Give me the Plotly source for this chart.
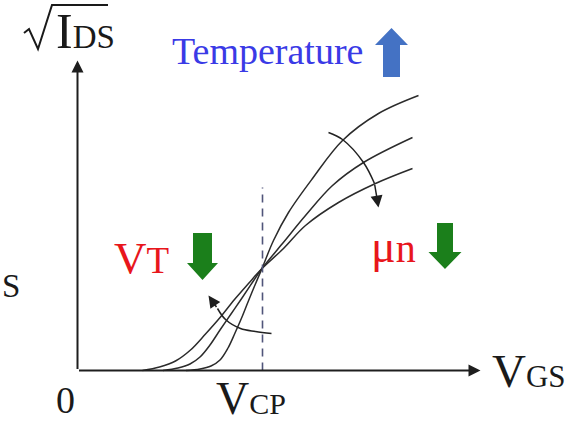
import plotly.graph_objects as go

W, H = 578, 425
# pixel position of the origin and scale (px per unit) of the schematic axes
X0_PX, Y0_PX, PX_PER_UNIT = 77.5, 370.5, 10.0

# ---------------- data (arbitrary units) ----------------
# curve with the highest temperature (lowest V_T, lowest mobility)
vgs_hot = [6.5, 8.2, 9.8, 11.3, 12.8, 14.3, 15.7, 17.1, 18.45, 20.6, 22.8, 26.1, 29.8, 33.5]
sqid_hot = [0.0, 0.35, 0.95, 2.05, 3.65, 5.35, 7.1, 8.7, 10.2, 12.2, 14.5, 16.8, 18.7, 20.2]
# middle temperature
vgs_mid = [8.55, 10.05, 11.25, 12.25, 13.25, 14.25, 15.35, 16.45, 17.45, 18.45, 20.5, 22.8, 25.5, 28.6, 33.5]
sqid_mid = [0.0, 0.25, 0.65, 1.35, 2.55, 4.05, 5.65, 7.25, 8.75, 10.2, 12.7, 15.5, 18.5, 20.8, 23.3]
# lowest temperature (highest V_T, highest mobility)
vgs_cold = [10.85, 12.25, 13.35, 14.25, 15.05, 15.75, 16.45, 17.05, 17.75, 18.45, 19.6, 21.1, 23.5, 26.5, 30.1, 34.1]
sqid_cold = [0.0, 0.15, 0.45, 1.05, 2.25, 3.75, 5.35, 6.85, 8.55, 10.2, 13.0, 15.8, 19.2, 23.0, 25.7, 27.5]

v_cp = 18.5          # crossing point
v_cp_top = 18.3      # top of the dashed marker
x_axis_end = 40.3
y_axis_end = 31.0

# arc arrows
mu_arc_x = [25.1, 26.5, 28.6, 29.7, 30.1]
mu_arc_y = [23.8, 23.1, 20.8, 18.7, 16.3]
vt_arc_x = [19.4, 17.8, 16.3, 14.8, 14.0, 13.1]
vt_arc_y = [3.7, 3.9, 4.2, 5.1, 6.2, 7.5]

# ---------------- helpers ----------------
def paper_x(p):
    return p / W

def paper_y(p):
    return 1 - p / H

CURVE = "#2b2b2b"
RED = "#e8161c"
GREEN = "#1b7f1b"
BLUE_T = "#3a3ae6"
BLUE_A = "#4472c4"
SERIF = "Liberation Serif, Times New Roman, serif"

fig = go.Figure()

for xs, ys in [(vgs_hot, sqid_hot), (vgs_mid, sqid_mid), (vgs_cold, sqid_cold)]:
    fig.add_trace(go.Scatter(x=xs, y=ys, mode="lines",
                             line=dict(color=CURVE, width=1.5, shape="spline", smoothing=1.0),
                             hoverinfo="skip", showlegend=False))

fig.add_trace(go.Scatter(x=[v_cp, v_cp], y=[0, v_cp_top], mode="lines",
                         line=dict(color="#50557a", width=1.6, dash="8px,6px"),
                         hoverinfo="skip", showlegend=False))

for xs, ys in [(mu_arc_x, mu_arc_y), (vt_arc_x, vt_arc_y)]:
    fig.add_trace(go.Scatter(x=xs[:-1], y=ys[:-1], mode="lines",
                             line=dict(color="#222", width=1.5, shape="spline"),
                             hoverinfo="skip", showlegend=False))

annotations = []

def arrow(x, y, ax, ay, width, size):
    annotations.append(dict(x=x, y=y, ax=ax, ay=ay, xref="x", yref="y", axref="x", ayref="y",
                            text="", showarrow=True, arrowhead=2, arrowsize=size,
                            arrowwidth=width, arrowcolor="#1e1e1e", standoff=0))

# axes
arrow(x_axis_end, 0, 0, 0, 2, 1.2)
arrow(0, y_axis_end, 0, 0, 2, 1.2)
# arc arrow heads
arrow(mu_arc_x[-1], mu_arc_y[-1], mu_arc_x[-2], mu_arc_y[-2], 1.5, 1.6)
arrow(vt_arc_x[-1], vt_arc_y[-1], vt_arc_x[-2], vt_arc_y[-2], 1.5, 1.6)

def label(parts, left, baseline, color):
    fs_max = max(fs for _, fs in parts)
    html = ""
    for i, (t, fs) in enumerate(parts):
        if fs == fs_max and i == 0:
            html += t
        else:
            html += "<span style='font-size:%dpx'>%s</span>" % (fs, t)
    annotations.append(dict(x=paper_x(left), y=paper_y(baseline + 0.216 * fs_max),
                            xref="paper", yref="paper", xanchor="left", yanchor="bottom",
                            text=html, showarrow=False, borderpad=0, borderwidth=0,
                            font=dict(family=SERIF, size=fs_max, color=color)))

label([("I", 50), ("DS", 33)], 56, 48, "#1a1a1a")
label([("Temperature", 38)], 172, 64, BLUE_T)
label([("V", 45), ("T", 37)], 114, 273, RED)
label([("μ", 46), ("n", 40)], 371, 262, RED)
label([("S", 33)], 2, 297, "#1a1a1a")
label([("0", 38)], 56, 413, "#1a1a1a")
label([("V", 46), ("CP", 30)], 216, 414.5, "#1a1a1a")
label([("V", 47), ("GS", 31)], 492, 387, "#1a1a1a")

shapes = []

def path_from(points, close):
    d = "M" + " L".join("%.5f,%.5f" % (paper_x(a), paper_y(b)) for a, b in points)
    return d + (" Z" if close else "")

# radical sign of sqrt(I_DS)
shapes.append(dict(type="path", xref="paper", yref="paper",
                   path=path_from([(24, 33), (29, 29), (38, 49), (52, 5), (108, 5)], False),
                   line=dict(color="#1a1a1a", width=2)))

def block_arrow(cx, tail, head_base, tip, shaft_w, head_w, color):
    s, h = shaft_w / 2, head_w / 2
    pts = [(cx - s, tail), (cx - s, head_base), (cx - h, head_base), (cx, tip),
           (cx + h, head_base), (cx + s, head_base), (cx + s, tail)]
    shapes.append(dict(type="path", xref="paper", yref="paper", path=path_from(pts, True),
                       fillcolor=color, line=dict(width=0)))

block_arrow(391.5, 77, 45, 28, 17, 33, BLUE_A)
block_arrow(202.5, 233, 263, 280, 19, 31, GREEN)
block_arrow(445, 223, 252, 269, 16, 33, GREEN)

fig.update_layout(
    width=W, height=H, margin=dict(l=0, r=0, t=0, b=0, pad=0),
    paper_bgcolor="white", plot_bgcolor="white",
    xaxis=dict(range=[-X0_PX / PX_PER_UNIT, (W - X0_PX) / PX_PER_UNIT], visible=False, fixedrange=True),
    yaxis=dict(range=[(Y0_PX - H) / PX_PER_UNIT, Y0_PX / PX_PER_UNIT], visible=False, fixedrange=True),
    annotations=annotations, shapes=shapes, showlegend=False,
)

fig.write_html("out.html", config={"displayModeBar": False, "staticPlot": True},
               post_script="document.body.style.margin='0';document.body.style.overflow='hidden';")
